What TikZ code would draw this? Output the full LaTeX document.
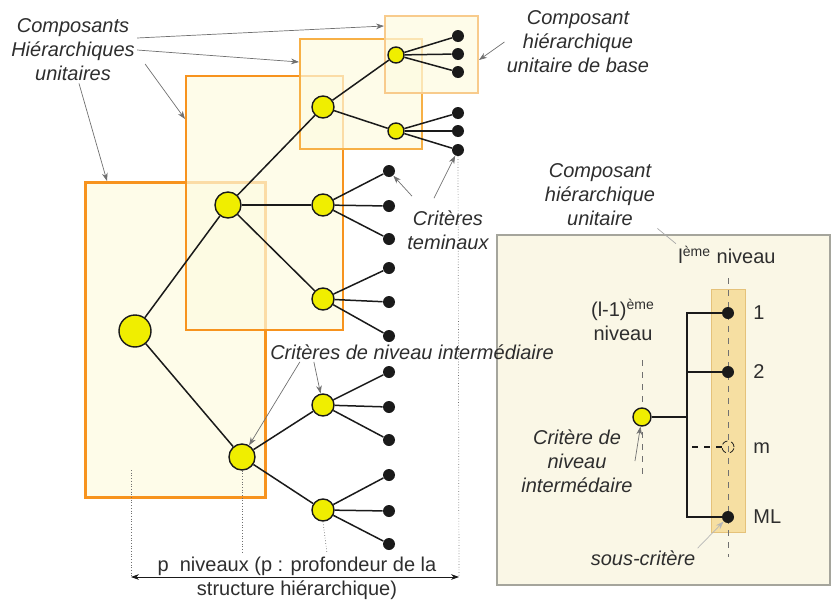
\documentclass[tikz,border=0pt]{standalone}
\usepackage{fontspec}
\setmainfont{Liberation Sans}
\usetikzlibrary{arrows.meta,positioning,calc}
\definecolor{boxorange}{HTML}{F7931E}
\definecolor{boxmid}{HTML}{F7B046}
\definecolor{boxlight}{HTML}{F8CB8C}
\definecolor{boxfill}{HTML}{FDFBE0}
\definecolor{nodeyellow}{HTML}{F0EE00}
\definecolor{ink}{HTML}{1A1A1A}
\definecolor{inkgray}{HTML}{707070}
\definecolor{txtgray}{HTML}{2E2E2E}
\definecolor{panelbg}{HTML}{FAF7E6}
\definecolor{panelline}{HTML}{A5A59C}
\definecolor{colfill}{HTML}{F6DFA2}
\definecolor{colline}{HTML}{E5C27A}
\tikzset{
  crit/.style={circle,draw=ink,fill=nodeyellow,line width=0.7pt,inner sep=0pt},
  root/.style={crit,minimum size=16pt},
  lvA/.style={crit,minimum size=13pt},
  lvB/.style={crit,minimum size=11pt},
  lvC/.style={crit,minimum size=8pt},
  leaf/.style={circle,fill=ink,minimum size=6pt,inner sep=0pt},
  ghostleaf/.style={circle,draw=ink,densely dashed,line width=0.4pt,fill=none,
                    minimum size=6pt,inner sep=0pt},
  edge/.style={draw=ink,line width=0.75pt},
  unitbox/.style={fill=boxfill,fill opacity=0.7,draw=boxorange,draw opacity=1},
  lbl/.style={font=\fontsize{10}{12}\selectfont\itshape,text=txtgray,
              align=center,inner sep=1pt},
  plainlbl/.style={font=\fontsize{10}{12}\selectfont,text=txtgray,
                   align=center,inner sep=1pt},
  grayarr/.style={-{Stealth[length=1.4mm,width=1mm]},line width=0.35pt,
                  draw=inkgray},
  guide/.style={draw=inkgray,line width=0.35pt,densely dotted},
  dashguide/.style={draw=inkgray,line width=0.35pt,dashed},
  dimarr/.style={{Stealth[length=1.4mm,width=1mm]}-{Stealth[length=1.4mm,width=1mm]},
                 line width=0.35pt,draw=ink}
}
\begin{document}
\begin{tikzpicture}[x=0.5pt,y=-0.5pt]
  \useasboundingbox (0,0) rectangle (832,600);
  % panel behind the detail
  \draw[draw=panelline,fill=panelbg,line width=0.6pt] (497,235) rectangle (830,585);
  % boxes of the unit components
  \draw[unitbox,line width=1.5pt] (85,182) rectangle (265,497);
  \draw[unitbox,line width=1.3pt] (186,76) rectangle (343,330);
  \draw[unitbox,line width=0.9pt,draw=boxmid] (300,39) rectangle (422,149);
  \draw[unitbox,line width=0.6pt,draw=boxlight] (385,16) rectangle (478,93);
  \coordinate (tipD) at (384,26);
  \coordinate (tipC) at (299,62);
  \coordinate (tipB) at (185,119);
  \coordinate (tipA) at (107,181);
  \coordinate (tipbase) at (479,60);

  % tree
  \node[root] (r) at (135,331) {};
  \node[lvA] (a1) at (228,205) {};
  \node[lvA] (a2) at (242,457) {};
  \node[lvB] (b1) at (323,107) {};
  \node[lvB] (b2) at (323,205) {};
  \node[lvB] (b3) at (323,299) {};
  \node[lvB] (b4) at (323,405) {};
  \node[lvB] (b5) at (323,510) {};
  \node[lvC] (c1) at (396,55) {};
  \node[lvC] (c2) at (396,131) {};
  \draw[edge] (r) -- (a1);
  \draw[edge] (r) -- (a2);
  \foreach \up/\kid in {a1/b1,a1/b2,a1/b3,a2/b4,a2/b5,b1/c1,b1/c2}
    \draw[edge] (\up) -- (\kid);
  \foreach \up/\x/\y [count=\i] in {c1/458/36,c1/458/54,c1/458/72,
      c2/458/113,c2/458/131,c2/458/150,b2/389/171,b2/389/206,b2/389/239,
      b3/389/268,b3/389/302,b3/389/336,b4/389/372,b4/389/407,b4/389/440,
      b5/389/475,b5/389/511,b5/389/544}{
    \node[leaf] (t\i) at (\x,\y) {};
    \draw[edge] (\up) -- (t\i);
  }

  % depth
  \coordinate (dimL) at (131,577);
  \coordinate (dimR) at (459,577);
  \draw[guide] (131,470) -- (dimL);
  \draw[guide] (a2.south) -- (242,553);
  \draw[guide] (b5.south) -- (327,553);
  \draw[guide] (t6) -- (dimR);
  \draw[dimarr] (dimL) -- (dimR);
  \node[plainlbl] (depth) at (297,578)
    {p\ \ niveaux (p : profondeur de la\\structure hiérarchique)};

  % labels
  \node[lbl] (chu) at (73,50) {Composants\\Hiérarchiques\\unitaires};
  \draw[grayarr] ([yshift=6pt]chu.east) -- (tipD);
  \draw[grayarr] (chu.east) -- (tipC);
  \draw[grayarr] ([xshift=4pt,yshift=-7pt]chu.east) -- (tipB);
  \draw[grayarr] ([xshift=3pt]chu.south) -- (tipA);
  \node[lbl] (base) at (578,42) {Composant\\hiérarchique\\unitaire de base};
  \draw[grayarr] (base.west) -- (tipbase);
  \node[lbl] (term) at (448,230) {Critères\\teminaux};
  \draw[grayarr] ([xshift=-18pt,yshift=6pt]term.north) -- (t7);
  \draw[grayarr] ([xshift=-7pt,yshift=5pt]term.north) -- (t6);
  \node[lbl] (inter) at (412,352) {Critères de niveau intermédiaire};
  \draw[grayarr] ([xshift=16pt]inter.south west) -- (a2);
  \draw[grayarr] ([xshift=23pt]inter.south west) -- (b4);

  % detail of one unit component
  \draw[draw=colline,fill=colfill,line width=0.5pt] (711,289) rectangle (745,532);
  \draw[dashguide] (728,278) -- (728,557);
  \draw[dashguide] (642,360) -- (642,477);
  \node[lvC,minimum size=9pt] (p) at (642,417) {};
  \node[leaf] (s1) at (728,313) {};
  \node[leaf] (s2) at (728,372) {};
  \node[ghostleaf] (sm) at (728,447) {};
  \node[leaf] (sML) at (728,517) {};
  \coordinate (jn) at (687,417);
  \draw[edge] (p) -- (jn);
  \draw[edge] (s1) -| (jn) |- (sML);
  \draw[edge] (s2) -| (jn);
  \draw[edge,dashed] (sm) -- (sm -| jn);
  \node[plainlbl,anchor=west] at (751,313) {1};
  \node[plainlbl,anchor=west] at (751,372) {2};
  \node[plainlbl,anchor=west] at (751,448) {m};
  \node[plainlbl,anchor=west] at (751,517) {ML};
  \node[plainlbl] (lniv) at (727,255) {l\textsuperscript{ème} niveau};
  \node[plainlbl] (l1niv) at (623,320) {(l-1)\textsuperscript{ème}\\niveau};
  \node[lbl] (chu2) at (600,195) {Composant\\hiérarchique\\unitaire};
  \draw[draw=inkgray!60,line width=0.35pt] (chu2.south east) -- (lniv.north west);
  \node[lbl] (cnd) at (577,461) {Critère de\\niveau\\intermédaire};
  \draw[grayarr] (cnd.east) -- (p);
  \node[lbl] (sc) at (643,558) {sous-critère};
  \draw[grayarr,draw=inkgray!50] (sc.north east) -- (sML);
\end{tikzpicture}
\end{document}
